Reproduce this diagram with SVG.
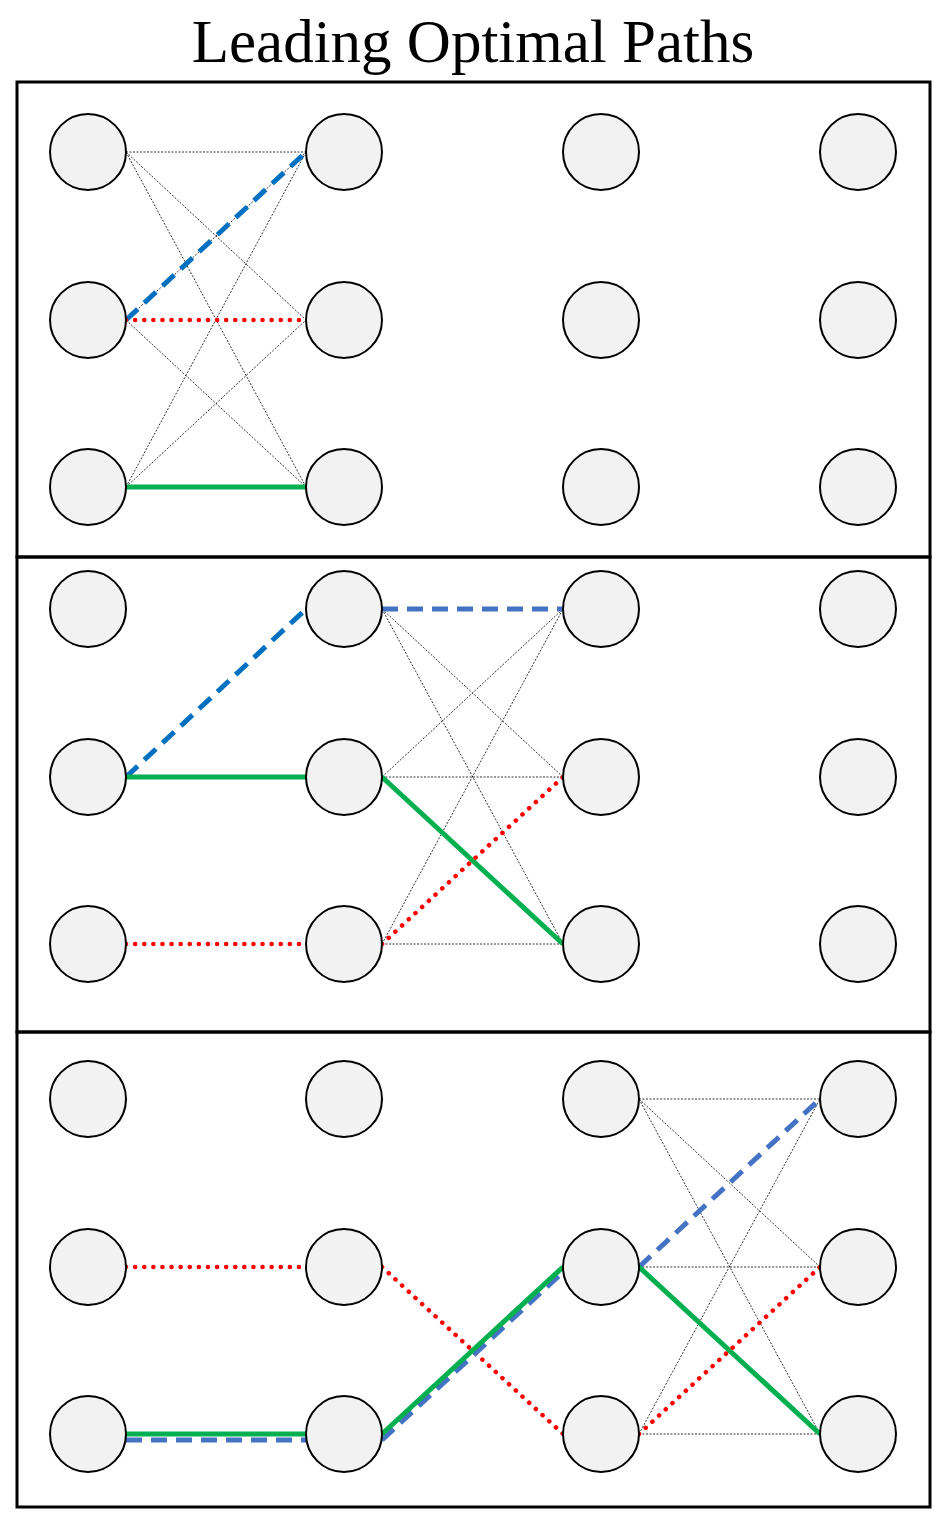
<svg xmlns="http://www.w3.org/2000/svg" width="948" height="1524" viewBox="0 0 948 1524">
<style>
.n{fill:#f2f2f2;stroke:#000;stroke-width:2}
.p{fill:none;stroke:#000;stroke-width:3}
.t{stroke:#000;stroke-width:0.8;stroke-dasharray:2,1.5}
.b{stroke:#0070C0;stroke-width:5;stroke-dasharray:16,9}
.b2{stroke:#4472C4;stroke-width:5;stroke-dasharray:16,9}
.r{stroke:#FF0000;stroke-width:4.5;stroke-dasharray:0.1,9;stroke-linecap:round}
.g{stroke:#00B050;stroke-width:5}
</style>
<rect width="948" height="1524" fill="#fff"/>
<text x="473" y="62" text-anchor="middle" font-family="Liberation Serif, serif" font-size="61">Leading Optimal Paths</text>
<g id="panels">
<rect class="p" x="17" y="82" width="913" height="475"/>
<rect class="p" x="17" y="557" width="913" height="475"/>
<rect class="p" x="17" y="1032" width="913" height="475"/>
</g>
<g id="connectors">
<path class="t" d="M126 152L306 152M126 152L306 320M126 152L306 487M126 320L306 152M126 320L306 487M126 487L306 152M126 487L306 320"/>
<line class="b" x1="126" y1="320" x2="306" y2="152"/>
<line class="r" x1="126" y1="320" x2="306" y2="320"/>
<line class="g" x1="126" y1="487" x2="306" y2="487"/>
<path class="t" d="M382 609L563 777M382 609L563 944M382 777L563 609M382 777L563 777M382 944L563 609M382 944L563 944"/>
<line class="b" x1="126" y1="777" x2="306" y2="609"/>
<line class="g" x1="126" y1="777" x2="306" y2="777"/>
<line class="r" x1="126" y1="944" x2="306" y2="944"/>
<line class="b2" x1="382" y1="609" x2="563" y2="609"/>
<line class="g" x1="382" y1="777" x2="563" y2="944"/>
<line class="r" x1="382" y1="944" x2="563" y2="777"/>
<path class="t" d="M639 1099L820 1099M639 1099L820 1267M639 1099L820 1434M639 1267L820 1267M639 1434L820 1099M639 1434L820 1434"/>
<line class="r" x1="126" y1="1267" x2="306" y2="1267"/>
<line class="b2" x1="126" y1="1440" x2="306" y2="1440"/>
<line class="g" x1="126" y1="1434" x2="306" y2="1434"/>
<line class="r" x1="382" y1="1267" x2="563" y2="1434"/>
<line class="b2" x1="382" y1="1440" x2="563" y2="1272"/>
<line class="g" x1="382" y1="1434" x2="563" y2="1267"/>
<line class="b2" x1="639" y1="1267" x2="820" y2="1099"/>
<line class="g" x1="639" y1="1267" x2="820" y2="1434"/>
<line class="r" x1="639" y1="1434" x2="820" y2="1267"/>
</g>
<g id="p1">
<circle id="p1n11" class="n" cx="88" cy="152" r="38"/><circle id="p1n12" class="n" cx="344" cy="152" r="38"/><circle id="p1n13" class="n" cx="601" cy="152" r="38"/><circle id="p1n14" class="n" cx="858" cy="152" r="38"/>
<circle id="p1n21" class="n" cx="88" cy="320" r="38"/><circle id="p1n22" class="n" cx="344" cy="320" r="38"/><circle id="p1n23" class="n" cx="601" cy="320" r="38"/><circle id="p1n24" class="n" cx="858" cy="320" r="38"/>
<circle id="p1n31" class="n" cx="88" cy="487" r="38"/><circle id="p1n32" class="n" cx="344" cy="487" r="38"/><circle id="p1n33" class="n" cx="601" cy="487" r="38"/><circle id="p1n34" class="n" cx="858" cy="487" r="38"/>
</g>
<g id="p2">
<circle id="p2n11" class="n" cx="88" cy="609" r="38"/><circle id="p2n12" class="n" cx="344" cy="609" r="38"/><circle id="p2n13" class="n" cx="601" cy="609" r="38"/><circle id="p2n14" class="n" cx="858" cy="609" r="38"/>
<circle id="p2n21" class="n" cx="88" cy="777" r="38"/><circle id="p2n22" class="n" cx="344" cy="777" r="38"/><circle id="p2n23" class="n" cx="601" cy="777" r="38"/><circle id="p2n24" class="n" cx="858" cy="777" r="38"/>
<circle id="p2n31" class="n" cx="88" cy="944" r="38"/><circle id="p2n32" class="n" cx="344" cy="944" r="38"/><circle id="p2n33" class="n" cx="601" cy="944" r="38"/><circle id="p2n34" class="n" cx="858" cy="944" r="38"/>
</g>
<g id="p3">
<circle id="p3n11" class="n" cx="88" cy="1099" r="38"/><circle id="p3n12" class="n" cx="344" cy="1099" r="38"/><circle id="p3n13" class="n" cx="601" cy="1099" r="38"/><circle id="p3n14" class="n" cx="858" cy="1099" r="38"/>
<circle id="p3n21" class="n" cx="88" cy="1267" r="38"/><circle id="p3n22" class="n" cx="344" cy="1267" r="38"/><circle id="p3n23" class="n" cx="601" cy="1267" r="38"/><circle id="p3n24" class="n" cx="858" cy="1267" r="38"/>
<circle id="p3n31" class="n" cx="88" cy="1434" r="38"/><circle id="p3n32" class="n" cx="344" cy="1434" r="38"/><circle id="p3n33" class="n" cx="601" cy="1434" r="38"/><circle id="p3n34" class="n" cx="858" cy="1434" r="38"/>
</g>
</svg>
